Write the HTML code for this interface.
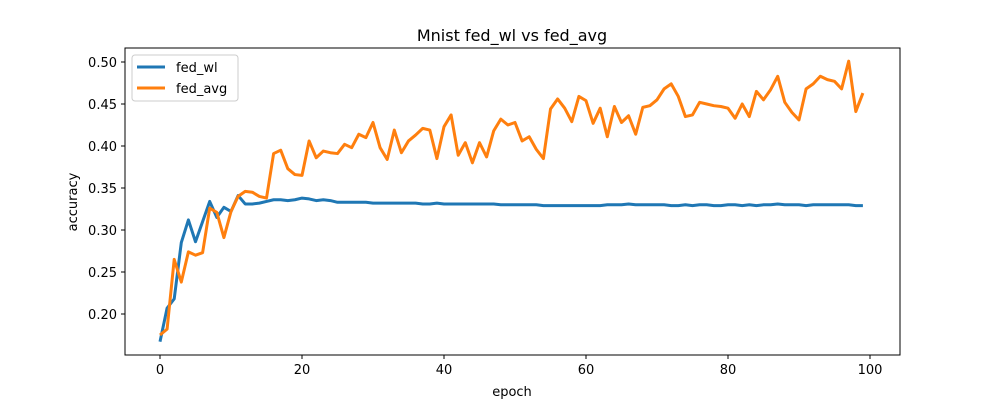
<!DOCTYPE html>
<html><head><meta charset="utf-8"><style>
body{margin:0;background:#fff;font-family:"Liberation Sans","DejaVu Sans",sans-serif;}
svg text{font-family:"DejaVu Sans","Liberation Sans",sans-serif;fill:#000}
</style></head><body>
<svg id="c" width="1000" height="400">
<rect x="0" y="0" width="1000" height="400" fill="#fff"/>
<text x="512" y="41" font-size="16" text-anchor="middle">Mnist fed_wl vs fed_avg</text>
<g id="plot"></g>
<rect x="125" y="48" width="775" height="307" fill="none" stroke="#000" stroke-width="1"/>
<text x="512" y="396" font-size="13" text-anchor="middle">epoch</text>
<text transform="translate(77,202) rotate(-90)" font-size="13" text-anchor="middle">accuracy</text>
<g>
<rect x="132" y="55" width="106" height="46" rx="3" fill="#fff" stroke="#ccc"/>
<line x1="137" y1="67" x2="165" y2="67" stroke="#1f77b4" stroke-width="3"/>
<text x="176" y="72" font-size="13">fed_wl</text>
<line x1="137" y1="88" x2="165" y2="88" stroke="#ff7f0e" stroke-width="3"/>
<text x="176" y="93" font-size="13">fed_avg</text>
</g>
</svg>
<script>
const xTicks=[0,20,40,60,80,100];
const yTicks=[0.20,0.25,0.30,0.35,0.40,0.45,0.50];
const fedWl=[0.167,0.207,0.218,0.285,0.312,0.286,0.310,0.334,0.315,0.327,0.322,0.341,0.331,0.331,0.332,0.334,0.336,0.336,0.335,0.336,0.338,0.337,0.335,0.336,0.335,0.333,0.333,0.333,0.333,0.333,0.332,0.332,0.332,0.332,0.332,0.332,0.332,0.331,0.331,0.332,0.331,0.331,0.331,0.331,0.331,0.331,0.331,0.331,0.330,0.330,0.330,0.330,0.330,0.330,0.329,0.329,0.329,0.329,0.329,0.329,0.329,0.329,0.329,0.330,0.330,0.330,0.331,0.330,0.330,0.330,0.330,0.330,0.329,0.329,0.330,0.329,0.330,0.330,0.329,0.329,0.330,0.330,0.329,0.330,0.329,0.330,0.330,0.331,0.330,0.330,0.330,0.329,0.330,0.330,0.330,0.330,0.330,0.330,0.329,0.329];
const fedAvg=[0.175,0.182,0.265,0.238,0.274,0.270,0.273,0.326,0.321,0.291,0.322,0.340,0.346,0.345,0.340,0.338,0.391,0.395,0.373,0.366,0.365,0.406,0.386,0.394,0.392,0.391,0.402,0.398,0.414,0.410,0.428,0.398,0.384,0.419,0.392,0.406,0.413,0.421,0.419,0.385,0.423,0.437,0.389,0.404,0.380,0.404,0.387,0.418,0.432,0.425,0.428,0.406,0.411,0.396,0.385,0.444,0.456,0.445,0.429,0.459,0.454,0.427,0.445,0.411,0.447,0.428,0.436,0.414,0.446,0.448,0.455,0.468,0.474,0.459,0.435,0.437,0.452,0.450,0.448,0.447,0.445,0.433,0.450,0.435,0.465,0.455,0.467,0.483,0.452,0.440,0.431,0.468,0.474,0.483,0.479,0.477,0.468,0.501,0.441,0.463];
const X=e=>160+e*7.1;
const Y=v=>230-(v-0.3)*840;
const NS='http://www.w3.org/2000/svg';
const g=document.getElementById('plot');
function mk(t,a){const e=document.createElementNS(NS,t);for(const k in a)e.setAttribute(k,a[k]);g.appendChild(e);return e;}
xTicks.forEach(t=>{
  const l=mk('line',{x1:X(t),x2:X(t),y1:355,y2:359,stroke:'#000'});
  
  
  const tx=mk('text',{x:X(t),y:374,'font-size':13,'text-anchor':'middle'});tx.textContent=t;
  
  
});
yTicks.forEach(t=>{
  const l=mk('line',{x1:121,x2:125,y1:Y(t),y2:Y(t),stroke:'#000'});
  
  
  const tx=mk('text',{x:117,y:Y(t)+5,'font-size':13,'text-anchor':'end'});tx.textContent=t.toFixed(2);
  
  
});
function line(d,c,n){
  const p=mk('polyline',{points:d.map((v,i)=>X(i)+','+Y(v)).join(' '),fill:'none',stroke:c,'stroke-width':3,'stroke-linejoin':'round'});
  
  
}
line(fedWl,'#1f77b4','fed-wl-line');
line(fedAvg,'#ff7f0e','fed-avg-line');
</script>
</body></html>
